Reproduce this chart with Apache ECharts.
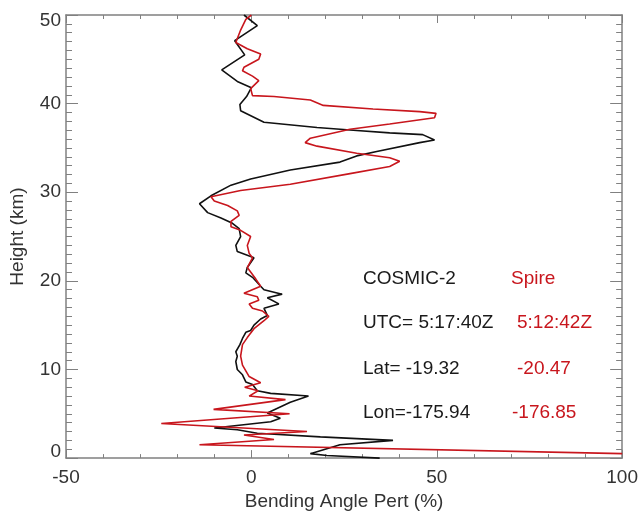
<!DOCTYPE html>
<html>
<head>
<meta charset="utf-8">
<script src="https://cdn.jsdelivr.net/npm/echarts@6/dist/echarts.min.js"></script>
<style>html,body{margin:0;padding:0;background:#fff;}#c{width:641px;height:516px;}</style>
</head>
<body>
<div id="c"></div>
<script>
// COSMIC-2 profile (black): bending angle perturbation (%) vs height (km)
var cosmicPert = [-2.0, 1.6, -4.5, -1.8, -8.0, -3.8, 0.0, -1.3, -3.1, -2.9, 3.4, 17.7, 27.5, 37.3, 46.2, 49.4, 45.4, 33.8, 28.4, 23.9, 10.5, -0.2, -5.5, -10.9, -14.0, -11.8, -8.2, -5.1, -3.3, -2.9, -4.2, -3.8, 0.7, -1.1, -1.5, 0.3, 2.5, 3.4, 8.3, 4.3, 7.4, 3.4, 4.3, 2.5, 0.7, -0.2, -1.5, -2.4, -3.1, -4.2, -3.8, -4.2, -3.8, -2.4, -1.5, 0.3, 1.6, 5.2, 15.4, 10.5, 4.3, 7.8, 5.2, -10.0, -3.8, 1.6, 18.6, 38.2, 23.9, 15.9, 20.4, 34.6];
var cosmicHeight = [50.0, 48.8, 47.1, 45.5, 43.8, 42.5, 41.8, 40.8, 39.9, 39.2, 37.9, 37.3, 37.0, 36.7, 36.5, 35.9, 35.6, 34.6, 34.1, 33.4, 32.5, 31.5, 30.8, 29.6, 28.7, 27.7, 27.1, 26.5, 25.9, 25.0, 24.0, 23.3, 22.6, 21.5, 20.9, 20.4, 19.4, 19.0, 18.5, 18.1, 17.4, 16.9, 16.1, 15.7, 15.0, 14.4, 14.2, 13.5, 12.8, 12.0, 11.5, 10.9, 10.0, 9.4, 8.6, 8.3, 7.6, 7.3, 7.0, 6.3, 5.1, 4.5, 4.1, 3.4, 3.2, 2.8, 2.4, 2.0, 1.5, 0.5, 0.3, 0.0];
// Spire profile (red)
var spirePert = [0.0, -1.5, -2.9, -4.2, -1.1, 2.5, 2.0, -2.0, -2.4, 0.3, 2.0, -0.2, -0.6, 0.3, 6.1, 15.9, 19.4, 32.8, 45.4, 49.8, 49.4, 37.3, 26.6, 15.9, 14.5, 17.7, 28.4, 37.3, 40.0, 37.3, 26.6, 10.5, -2.9, -10.9, -10.0, -6.4, -3.8, -3.3, -5.5, -5.5, -2.9, -0.2, -1.1, -0.6, 0.3, -1.1, 1.2, 2.5, -2.0, 1.6, 2.0, -0.6, 0.3, 3.0, 4.7, 3.4, 0.7, -1.1, -2.4, -2.9, -2.4, -0.6, 2.5, -1.8, 1.8, -0.6, 9.2, -10.2, 10.3, -24.3, 15.0, -2.0, 6.1, -14.0, 100];
var spireHeight = [50.0, 49.5, 48.3, 46.9, 46.2, 45.6, 45.0, 44.1, 43.7, 43.1, 42.6, 41.7, 41.5, 40.9, 40.8, 40.4, 39.8, 39.4, 39.1, 38.9, 38.4, 37.7, 37.1, 36.1, 35.6, 35.2, 34.4, 33.9, 33.5, 32.9, 32.1, 30.9, 30.2, 29.5, 29.0, 28.5, 27.9, 27.4, 26.7, 26.1, 25.7, 25.0, 24.0, 23.1, 22.6, 21.5, 20.2, 19.4, 18.6, 18.2, 17.8, 17.4, 16.9, 16.6, 16.0, 15.5, 14.6, 13.6, 12.8, 11.5, 10.5, 9.2, 8.5, 8.0, 7.6, 7.0, 6.6, 5.5, 5.0, 3.9, 3.0, 2.6, 2.1, 1.5, 0.5];
// Tick labels
var xTicks = [-50, 0, 50, 100];
var yTicks = [0, 10, 20, 30, 40, 50];
// Annotation text
var leftNotes = ['COSMIC-2', 'UTC= 5:17:40Z', 'Lat= -19.32', 'Lon=-175.94'];
var rightNotes = ['Spire', '5:12:42Z', '-20.47', '-176.85'];

function pairs(xs, ys) { return xs.map(function (v, i) { return [v, ys[i]]; }); }

var FONT = 'Liberation Sans';
var AX = '#808080';
var LBL = '#333333';
var RED = '#c8161d';

var chart = echarts.init(document.getElementById('c'), null, {renderer: 'canvas'});

function yAxisDef(pos, withLabels) {
  return {
    type: 'value', position: pos, min: 0, max: 50, interval: 10,
    axisLine: {show: true, onZero: false, lineStyle: {color: AX, width: 1.5}},
    axisTick: {show: true, inside: true, length: 12, lineStyle: {color: AX, width: 1}},
    minorTick: {show: true, splitNumber: 10, length: 6, lineStyle: {color: AX, width: 1}},
    axisLabel: withLabels ? {
      show: true, customValues: yTicks, color: LBL, fontSize: 19, fontFamily: FONT, margin: 5,
      formatter: function (v) { return v === 50 ? '{t|50}' : (v === 0 ? '{b|0}' : String(v)); },
      rich: {
        t: {fontSize: 19, fontFamily: FONT, color: LBL, padding: [12, 0, 0, 0]},
        b: {fontSize: 19, fontFamily: FONT, color: LBL, padding: [0, 0, 12, 0]}
      }
    } : {show: false},
    splitLine: {show: false}, minorSplitLine: {show: false},
    name: withLabels ? 'Height (km)' : '',
    nameLocation: 'middle', nameGap: 39,
    nameTextStyle: {color: LBL, fontSize: 19, fontFamily: FONT}
  };
}
function xAxisDef(pos, withLabels) {
  return {
    type: 'value', position: pos, min: -50, max: 100, interval: 50,
    axisLine: {show: true, onZero: false, lineStyle: {color: AX, width: 1.5}},
    axisTick: {show: true, inside: true, length: 8, lineStyle: {color: AX, width: 1}},
    minorTick: {show: true, splitNumber: 5, length: 4, lineStyle: {color: AX, width: 1}},
    axisLabel: withLabels ? {show: true, color: LBL, fontSize: 19, fontFamily: FONT, margin: 10} : {show: false},
    splitLine: {show: false}, minorSplitLine: {show: false},
    name: withLabels ? 'Bending Angle Pert (%)' : '',
    nameLocation: 'middle', nameGap: 31,
    nameTextStyle: {color: LBL, fontSize: 19, fontFamily: FONT}
  };
}

var notes = [];
var rowsY = [279, 323, 369, 413];
var rightX = [511, 517, 517, 512];
for (var i = 0; i < leftNotes.length; i++) {
  notes.push({type: 'text', x: 363, y: rowsY[i], style: {text: leftNotes[i], fill: '#1a1a1a', fontSize: 19, fontFamily: FONT, align: 'left', verticalAlign: 'middle'}});
  notes.push({type: 'text', x: rightX[i], y: rowsY[i], style: {text: rightNotes[i], fill: RED, fontSize: 19, fontFamily: FONT, align: 'left', verticalAlign: 'middle'}});
}

chart.setOption({
  animation: false,
  backgroundColor: '#ffffff',
  grid: {left: 64, right: 17, top: 15, bottom: 52, containLabel: false},
  xAxis: [xAxisDef('bottom', true), xAxisDef('top', false)],
  yAxis: [yAxisDef('left', true), yAxisDef('right', false)],
  series: [
    {name: 'COSMIC-2', type: 'line', xAxisIndex: 0, yAxisIndex: 0, showSymbol: false, clip: true,
     lineStyle: {color: '#111111', width: 1.6}, data: pairs(cosmicPert, cosmicHeight), z: 3},
    {name: 'Spire', type: 'line', xAxisIndex: 0, yAxisIndex: 0, showSymbol: false, clip: true,
     lineStyle: {color: RED, width: 1.6}, data: pairs(spirePert, spireHeight), z: 4}
  ],
  graphic: notes
});
</script>
</body>
</html>
